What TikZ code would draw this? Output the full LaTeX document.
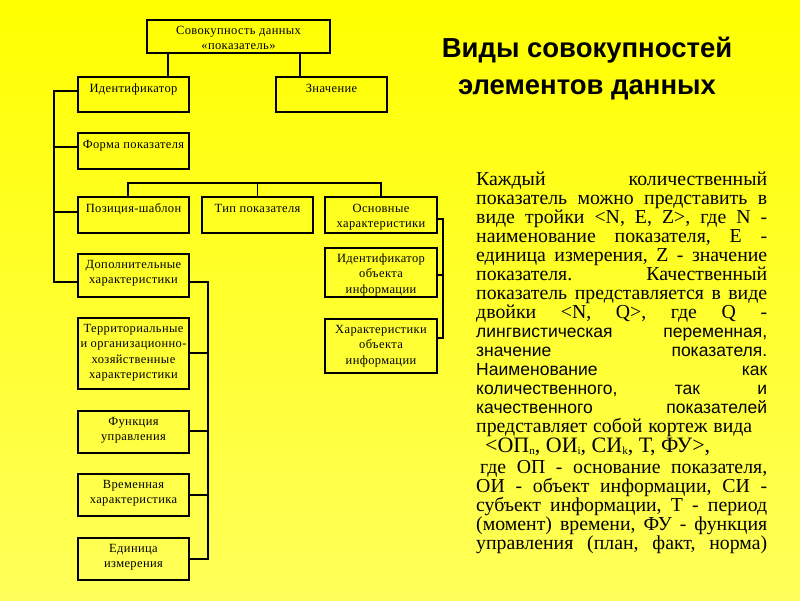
\documentclass[tikz,border=0pt]{standalone}
\usepackage{fontspec}
\setmainfont{Liberation Serif}
\newfontfamily\boxfont[LetterSpace=3]{Liberation Serif}
\newfontfamily\arialfont{Liberation Sans}
\usetikzlibrary{calc}
\definecolor{bgtop}{RGB}{255,255,0}
\definecolor{bgbot}{RGB}{255,255,90}
\newcommand\bt[1]{\begin{tabular}[t]{@{}c@{}}#1\end{tabular}}
\newcommand\jl[1]{\hbox to 291pt{\frenchspacing\spaceskip=0.2em plus 1fil\relax #1}}
\newcommand\sbs[1]{\raisebox{-2.5pt}{\fontsize{11}{11}\selectfont #1}}
\tikzset{
  box/.style={draw, line width=1.2pt, inner sep=0pt, outer sep=0pt, anchor=north west},
  btxt/.style={font=\boxfont\fontsize{12.5}{15.5}\selectfont, inner sep=0pt, anchor=base},
  conn/.style={line width=1.2pt},
  ttl/.style={font=\arialfont\bfseries\fontsize{27.5}{30}\selectfont, inner sep=0pt, anchor=base},
  pt/.style={font=\fontsize{19.8}{19}\selectfont, inner sep=0pt, anchor=base west},
  pa/.style={font=\arialfont\fontsize{17.5}{19}\selectfont, inner sep=0pt, anchor=base west}
}
\begin{document}
\begin{tikzpicture}[x=1pt,y=-1pt]
\useasboundingbox (0,0) rectangle (800,600);
\shade[top color=bgtop, bottom color=bgbot] (0,0) rectangle (800,600);
% boxes
\node[box, line width=2.4pt, minimum width=183, minimum height=33] (agg) at (147,20) {};
\node[box, minimum width=111, minimum height=35] (id) at (78,77) {};
\node[box, minimum width=111, minimum height=35] (zn) at (276,77) {};
\node[box, minimum width=111, minimum height=36] (form) at (78,133) {};
\node[box, minimum width=111, minimum height=36] (pos) at (78,197) {};
\node[box, minimum width=111, minimum height=36] (tip) at (202,197) {};
\node[box, minimum width=112, minimum height=36] (osn) at (325,197) {};
\node[box, minimum width=112, minimum height=49] (idobj) at (325,248) {};
\node[box, minimum width=112, minimum height=54] (har) at (325,319) {};
\node[box, minimum width=111, minimum height=43] (dop) at (78,254) {};
\node[box, minimum width=111, minimum height=71] (terr) at (78,318) {};
\node[box, minimum width=111, minimum height=42] (func) at (78,411) {};
\node[box, minimum width=111, minimum height=42] (vrem) at (78,474) {};
\node[box, minimum width=111, minimum height=42] (ed) at (78,538) {};
% box texts
\node[btxt] (aggt) at ($(agg.north)+(0,14)$) {\bt{Совокупность данных\\«показатель»}};
\node[btxt] (idt) at ($(id.north)+(0,15)$) {Идентификатор};
\node[btxt] (znt) at ($(zn.north)+(0,15)$) {Значение};
\node[btxt] (formt) at ($(form.north)+(0,15)$) {Форма показателя};
\node[btxt] (post) at ($(pos.north)+(0,15)$) {Позиция-шаблон};
\node[btxt] (tipt) at ($(tip.north)+(0,15)$) {Тип показателя};
\node[btxt] (osnt) at ($(osn.north)+(0,15)$) {\bt{Основные\\характеристики}};
\node[btxt] (idobjt) at ($(idobj.north)+(0,14)$) {\bt{Идентификатор\\объекта\\информации}};
\node[btxt] (hart) at ($(har.north)+(0,14)$) {\bt{Характеристики\\объекта\\информации}};
\node[btxt] (dopt) at ($(dop.north)+(0,14)$) {\bt{Дополнительные\\характеристики}};
\node[btxt] (terrt) at ($(terr.north)+(0,14)$) {\bt{Территориальные\\и организационно-\\хозяйственные\\характеристики}};
\node[btxt] (funct) at ($(func.north)+(0,14)$) {\bt{Функция\\управления}};
\node[btxt] (vremt) at ($(vrem.north)+(0,14)$) {\bt{Временная\\характеристика}};
\node[btxt] (edt) at ($(ed.north)+(0,14)$) {\bt{Единица\\измерения}};
% connectors
\coordinate (xa) at (168,0);
\coordinate (xb) at (300,0);
\draw[conn] (agg.south -| xa) -- (id.north -| xa);
\draw[conn] (agg.south -| xb) -- (zn.north -| xb);
\draw[conn] ($(id.north west)+(0,14)$) -| ($(dop.north west)+(-24,28)$) -- ($(dop.north west)+(0,28)$);
\draw[conn] ($(form.north west)+(0,14)$) -- ++(-24,0);
\draw[conn] ($(pos.north west)+(0,15)$) -- ++(-24,0);
\draw[conn] ($(pos.north)+(-5.5,0)$) -- ++(0,-14) -| (osn.north);
\draw[conn] (tip.north) -- ++(0,-14);
\draw[conn] ($(dop.north east)+(0,28)$) -- ++(19,0) |- ($(ed.north east)+(0,21)$);
\draw[conn] ($(terr.north east)+(0,35)$) -- ++(19,0);
\draw[conn] ($(func.north east)+(0,20)$) -- ++(19,0);
\draw[conn] ($(vrem.north east)+(0,21)$) -- ++(19,0);
\draw[conn] ($(osn.north east)+(0,22)$) -- ++(6,0) |- ($(har.north east)+(0,19)$);
\draw[conn] ($(idobj.north east)+(0,27)$) -- ++(6,0);
% title
\node[ttl] (t1) at (587,57) {Виды совокупностей};
\node[ttl] (t2) at (587,94) {элементов данных};
% paragraph
\node[pt] (p1) at (476,185) {\jl{Каждый количественный}};
\node[pt] (p2) at (476,204) {\jl{показатель можно представить в}};
\node[pt] (p3) at (476,223) {\jl{виде тройки <N, E, Z>, где N -}};
\node[pt] (p4) at (476,242) {\jl{наименование показателя, E -}};
\node[pt] (p5) at (476,261) {\jl{единица измерения, Z - значение}};
\node[pt] (p6) at (476,280) {\jl{показателя. Качественный}};
\node[pt] (p7) at (476,299) {\jl{показатель представляется в виде}};
\node[pt] (p8) at (476,318) {\jl{двойки <N, Q>, где Q -}};
\node[pa] (p9) at (476,337) {\jl{лингвистическая переменная,}};
\node[pa] (p10) at (476,356) {\jl{значение показателя.}};
\node[pa] (p11) at (476,375) {\jl{Наименование как}};
\node[pa] (p12) at (476,394) {\jl{количественного, так и}};
\node[pa] (p13) at (476,413) {\jl{качественного показателей}};
\node[pt] (p14) at (476,432) {\hbox to 276pt{\spaceskip=0.1em plus 1fil\relax представляет собой кортеж вида}};
\node[pt, font=\fontsize{22}{24}\selectfont] (p15) at (485,452) {<ОП\sbs{n}, ОИ\sbs{i}, СИ\sbs{k}, Т, ФУ>,};
\node[pt] (p16) at (476,473) {\jl{\hspace{4pt}где ОП - основание показателя,}};
\node[pt] (p17) at (476,492) {\jl{ОИ - объект информации, СИ -}};
\node[pt] (p18) at (476,511) {\jl{субъект информации, Т - период}};
\node[pt] (p19) at (476,530) {\jl{(момент) времени, ФУ - функция}};
\node[pt] (p20) at (476,549) {\jl{управления (план, факт, норма)}};
\end{tikzpicture}
\end{document}
